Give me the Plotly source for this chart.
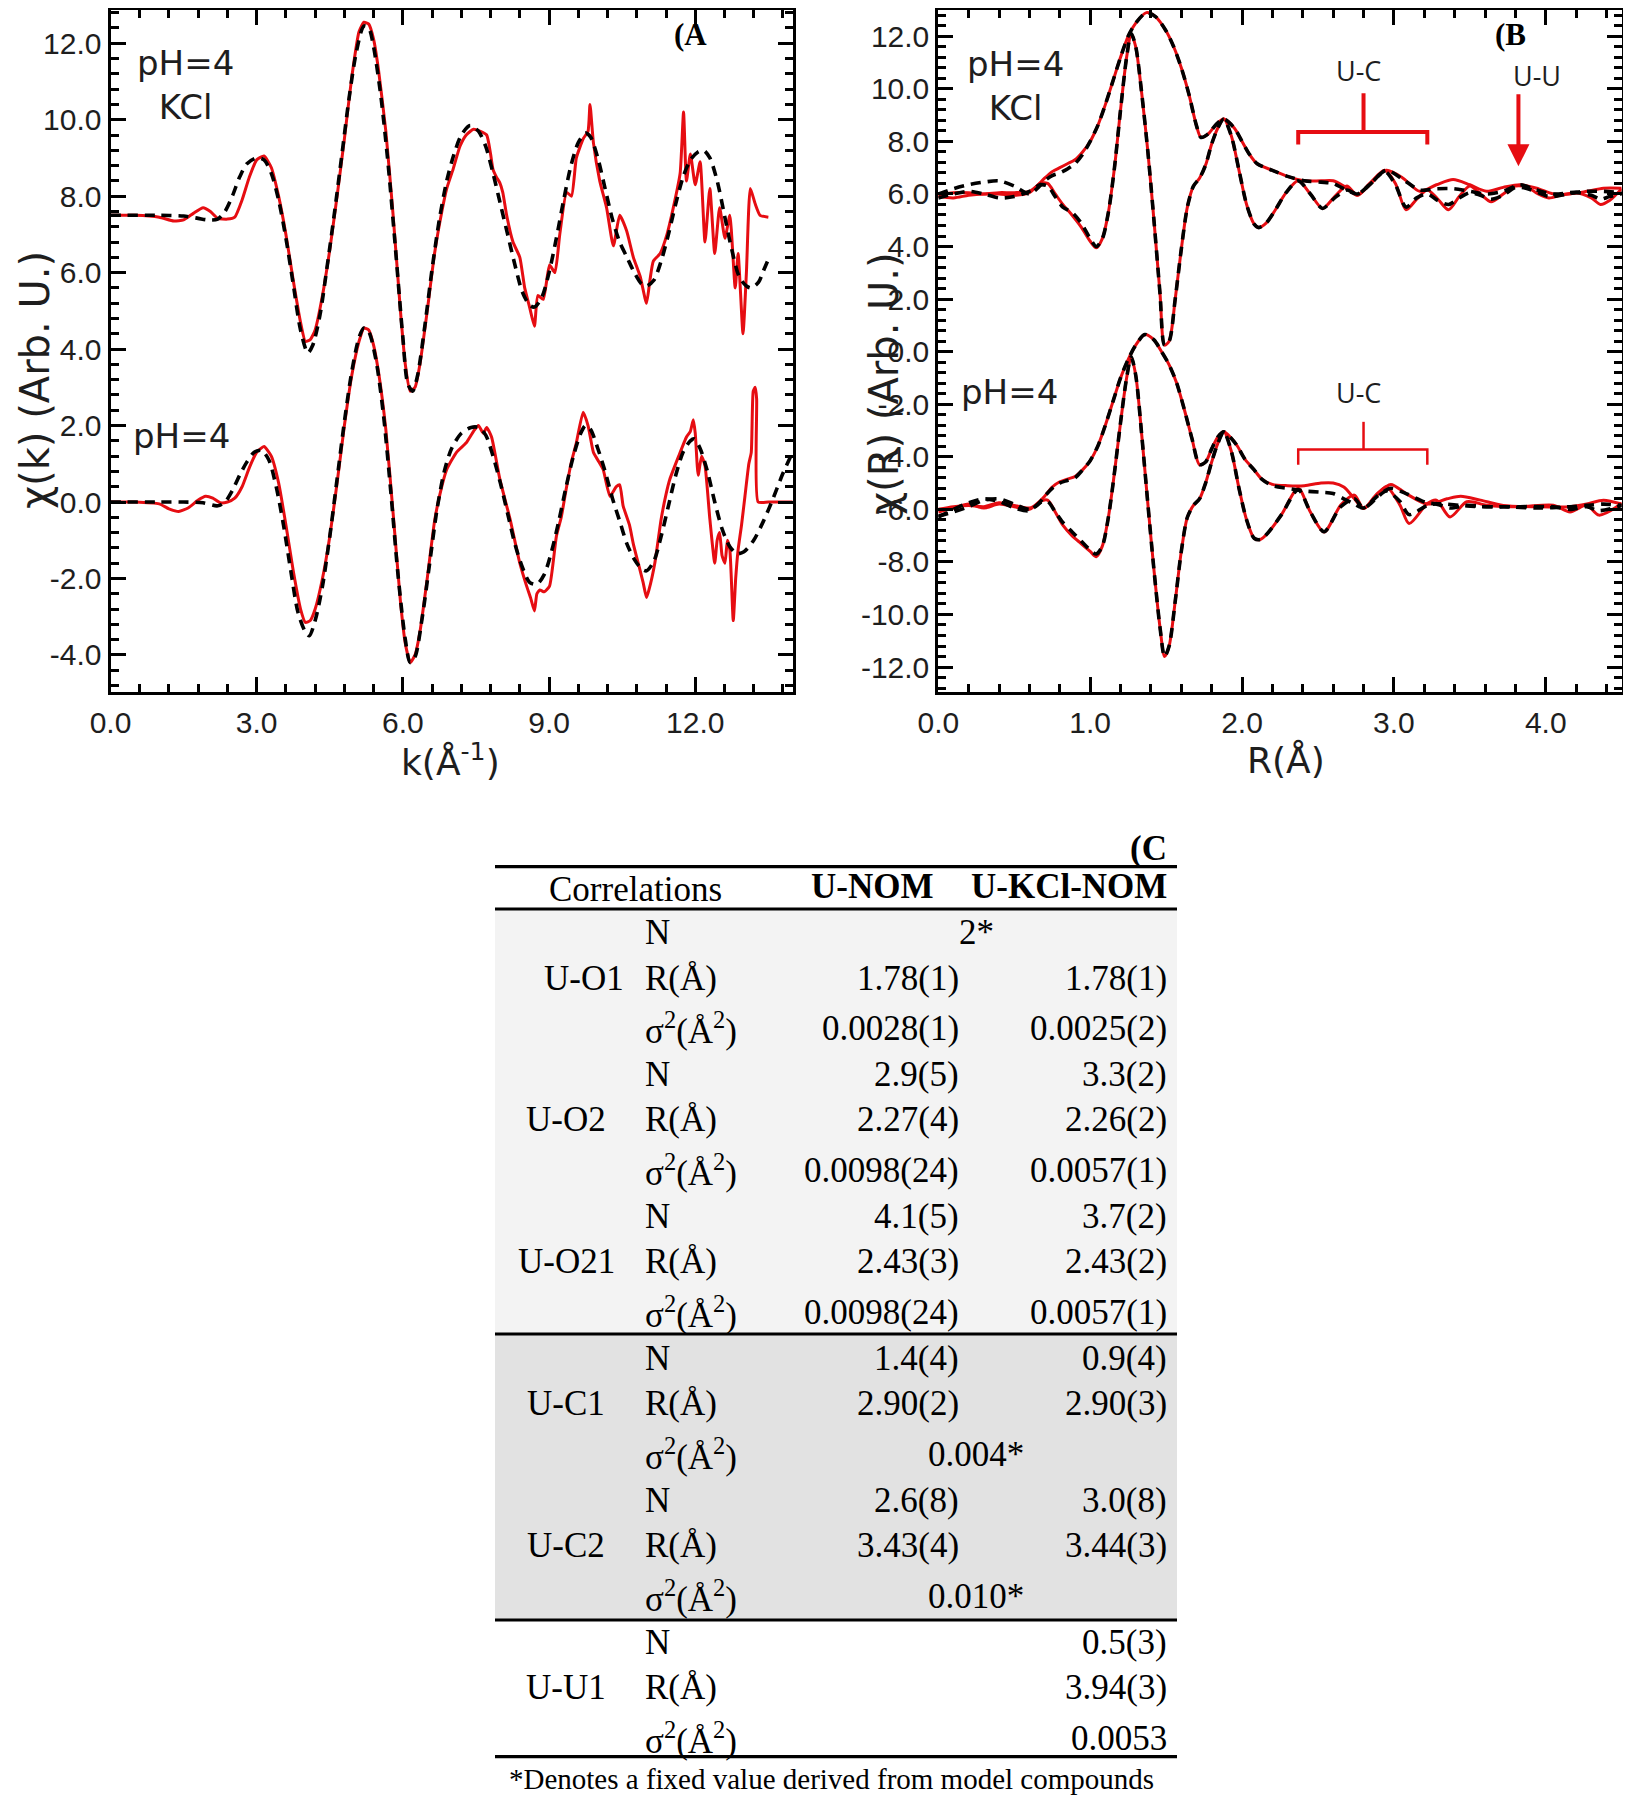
import plotly.graph_objects as go

# ---------------- data ----------------
# Panel A : chi(k)   (values as plotted, incl. vertical offsets)
A_UP_DATA = [(0.0, 7.5), (0.5, 7.5), (1.0, 7.45), (1.3, 7.35), (1.5, 7.38), (1.7, 7.55), (1.9, 7.7), (2.05, 7.6),
             (2.2, 7.42), (2.4, 7.4), (2.55, 7.45), (2.7, 7.9), (2.85, 8.5), (3.0, 8.95), (3.15, 9.05), (3.3, 8.75),
             (3.45, 8.0), (3.6, 7.0), (3.75, 5.8), (3.9, 4.7), (4.0, 4.2), (4.1, 4.25), (4.2, 4.5), (4.35, 5.4),
             (4.5, 6.6), (4.65, 8.0), (4.8, 9.5), (4.95, 11.1), (5.1, 12.3), (5.2, 12.55), (5.3, 12.5), (5.4, 12.1),
             (5.5, 11.3), (5.65, 9.7), (5.8, 7.5), (5.95, 5.0), (6.05, 3.6), (6.15, 2.9), (6.25, 3.0), (6.35, 3.6),
             (6.5, 5.0), (6.65, 6.5), (6.8, 7.6), (6.9, 8.2), (7.03, 8.7), (7.17, 9.3), (7.3, 9.6), (7.45, 9.75),
             (7.58, 9.7), (7.72, 9.6), (7.8, 9.1), (7.85, 8.7), (7.92, 8.5), (7.99, 8.35), (8.05, 8.1), (8.13, 7.5),
             (8.26, 6.8), (8.4, 6.4), (8.5, 5.6), (8.6, 5.1), (8.7, 4.6), (8.77, 5.4), (8.88, 5.3), (9.01, 6.2),
             (9.12, 6.0), (9.22, 7.0), (9.36, 8.1), (9.46, 8.0), (9.56, 9.0), (9.7, 9.5), (9.8, 9.7), (9.84, 10.4),
             (9.91, 9.4), (10.04, 8.4), (10.18, 7.7), (10.32, 6.7), (10.45, 7.5), (10.59, 7.1), (10.73, 6.4),
             (10.87, 5.9), (11.0, 5.2), (11.07, 5.8), (11.14, 6.3), (11.28, 6.5), (11.42, 7.0), (11.55, 7.7),
             (11.69, 8.6), (11.76, 10.2), (11.82, 8.4), (11.9, 9.1), (12.0, 8.3), (12.1, 8.9), (12.2, 6.8),
             (12.3, 8.2), (12.4, 6.5), (12.5, 7.7), (12.61, 6.9), (12.71, 7.5), (12.82, 5.6), (12.88, 6.5),
             (12.98, 4.4), (13.05, 6.0), (13.13, 8.2), (13.23, 7.8), (13.33, 7.5), (13.5, 7.45)]
A_UP_FIT = [(0.0, 7.5), (1.0, 7.5), (1.5, 7.48), (1.8, 7.42), (2.0, 7.38), (2.2, 7.4), (2.35, 7.6), (2.5, 8.0),
            (2.65, 8.5), (2.8, 8.85), (3.0, 9.0), (3.15, 8.95), (3.3, 8.6), (3.45, 7.9), (3.6, 6.9), (3.75, 5.7),
            (3.9, 4.5), (4.05, 3.9), (4.15, 4.1), (4.3, 4.9), (4.45, 6.2), (4.6, 7.6), (4.75, 9.1), (4.9, 10.6),
            (5.05, 11.8), (5.2, 12.45), (5.3, 12.4), (5.4, 11.9), (5.55, 10.6), (5.7, 8.8), (5.85, 6.6), (6.0, 4.3),
            (6.1, 3.1), (6.2, 2.9), (6.3, 3.3), (6.45, 4.6), (6.6, 6.1), (6.75, 7.4), (6.9, 8.4), (7.05, 9.1),
            (7.2, 9.6), (7.38, 9.85), (7.55, 9.7), (7.7, 9.3), (7.85, 8.6), (8.0, 7.8), (8.15, 7.0), (8.3, 6.2),
            (8.45, 5.5), (8.6, 5.15), (8.7, 5.1), (8.85, 5.35), (9.0, 6.0), (9.15, 6.9), (9.3, 7.9), (9.45, 8.8),
            (9.6, 9.4), (9.75, 9.65), (9.85, 9.55), (10.0, 9.0), (10.15, 8.2), (10.3, 7.4), (10.45, 6.8),
            (10.6, 6.4), (10.75, 6.0), (10.9, 5.7), (11.0, 5.65), (11.15, 5.8), (11.3, 6.3), (11.45, 7.0),
            (11.6, 7.8), (11.75, 8.5), (11.9, 8.95), (12.05, 9.15), (12.17, 9.2), (12.3, 9.0), (12.45, 8.4),
            (12.6, 7.5), (12.75, 6.6), (12.9, 5.9), (13.05, 5.65), (13.15, 5.6), (13.3, 5.75), (13.4, 6.05),
            (13.5, 6.35)]
A_LO_DATA = [(0.0, 0.0), (0.5, 0.0), (1.0, -0.05), (1.2, -0.18), (1.4, -0.25), (1.6, -0.15), (1.8, 0.05),
             (1.95, 0.15), (2.1, 0.1), (2.25, -0.02), (2.4, 0.0), (2.55, 0.1), (2.7, 0.4), (2.85, 0.9), (3.0, 1.3),
             (3.15, 1.45), (3.3, 1.2), (3.45, 0.5), (3.6, -0.6), (3.75, -1.8), (3.9, -2.8), (4.0, -3.15),
             (4.1, -3.1), (4.2, -2.8), (4.35, -2.0), (4.5, -0.9), (4.65, 0.5), (4.8, 2.0), (4.95, 3.3), (5.1, 4.2),
             (5.2, 4.55), (5.3, 4.5), (5.4, 4.1), (5.5, 3.4), (5.65, 1.9), (5.8, -0.3), (5.95, -2.6), (6.05, -3.7),
             (6.15, -4.2), (6.25, -4.0), (6.35, -3.4), (6.5, -2.0), (6.65, -0.5), (6.76, 0.2), (6.9, 0.85),
             (7.1, 1.3), (7.3, 1.55), (7.45, 1.85), (7.55, 2.0), (7.65, 1.8), (7.72, 1.95), (7.82, 1.7), (7.99, 0.6),
             (8.2, -0.45), (8.4, -1.6), (8.54, -2.2), (8.62, -2.5), (8.7, -2.85), (8.75, -2.4), (8.81, -2.3),
             (8.9, -2.35), (9.01, -2.2), (9.15, -0.9), (9.25, -0.4), (9.36, 0.4), (9.45, 1.0), (9.56, 1.55),
             (9.7, 2.35), (9.8, 2.0), (9.91, 1.3), (10.0, 1.1), (10.11, 0.85), (10.25, 0.15), (10.38, 0.4),
             (10.45, 0.45), (10.52, -0.1), (10.65, -0.6), (10.73, -1.1), (10.85, -1.7), (10.93, -2.1), (11.0, -2.5),
             (11.05, -2.3), (11.17, -1.6), (11.3, -0.45), (11.4, 0.2), (11.48, 0.6), (11.66, 1.2), (11.82, 1.7),
             (11.9, 1.85), (11.96, 2.15), (12.0, 1.8), (12.06, 0.7), (12.13, 1.2), (12.2, 0.95), (12.3, -0.45),
             (12.4, -1.6), (12.45, -1.0), (12.5, -0.8), (12.55, -1.4), (12.61, -1.6), (12.66, -1.0), (12.71, -1.25),
             (12.78, -3.1), (12.83, -2.0), (12.88, -1.25), (12.95, -0.6), (13.02, 0.15), (13.1, 1.0), (13.15, 1.3),
             (13.19, 2.9), (13.23, 3.0), (13.26, 2.7), (13.29, 0.0), (13.5, 0.0), (14.0, 0.0)]
A_LO_FIT = [(0.0, 0.0), (1.0, 0.0), (1.5, 0.0), (1.9, -0.02), (2.2, -0.1), (2.35, 0.0), (2.5, 0.3), (2.65, 0.7),
            (2.8, 1.05), (2.95, 1.3), (3.1, 1.35), (3.25, 1.1), (3.4, 0.4), (3.55, -0.6), (3.7, -1.8), (3.85, -2.9),
            (4.0, -3.4), (4.08, -3.5), (4.2, -3.1), (4.35, -2.2), (4.5, -0.9), (4.65, 0.6), (4.8, 2.1), (4.95, 3.4),
            (5.1, 4.3), (5.2, 4.55), (5.3, 4.45), (5.45, 3.7), (5.6, 2.3), (5.75, 0.3), (5.9, -1.9), (6.05, -3.6),
            (6.15, -4.2), (6.25, -4.05), (6.4, -3.0), (6.55, -1.6), (6.7, -0.2), (6.85, 0.8), (7.0, 1.4), (7.2, 1.8),
            (7.4, 1.95), (7.55, 1.95), (7.7, 1.75), (7.85, 1.2), (8.0, 0.5), (8.15, -0.3), (8.3, -1.1), (8.45, -1.7),
            (8.6, -2.1), (8.75, -2.15), (8.9, -1.9), (9.05, -1.3), (9.2, -0.5), (9.35, 0.4), (9.5, 1.2), (9.65, 1.8),
            (9.75, 2.0), (9.85, 1.9), (10.0, 1.4), (10.15, 0.8), (10.3, 0.1), (10.45, -0.5), (10.6, -1.1),
            (10.75, -1.5), (10.9, -1.75), (11.0, -1.8), (11.15, -1.55), (11.3, -0.9), (11.45, -0.1), (11.6, 0.7),
            (11.75, 1.3), (11.9, 1.6), (11.98, 1.65), (12.1, 1.4), (12.25, 0.8), (12.4, 0.0), (12.55, -0.7),
            (12.7, -1.15), (12.85, -1.35), (13.0, -1.3), (13.2, -1.0), (13.4, -0.5), (13.6, 0.1), (13.8, 0.75),
            (14.0, 1.3)]

# Panel B : |chi(R)| and Re chi(R)
B_UP_MAG_DATA = [(0.0, 5.95), (0.1, 6.05), (0.2, 6.05), (0.3, 6.0), (0.4, 6.05), (0.5, 6.05), (0.6, 6.1), (0.65, 6.3),
                 (0.7, 6.6), (0.75, 6.85), (0.8, 7.0), (0.85, 7.15), (0.9, 7.3), (0.95, 7.6), (1.0, 8.0), (1.05, 8.6),
                 (1.1, 9.4), (1.15, 10.3), (1.2, 11.2), (1.25, 12.0), (1.3, 12.5), (1.37, 12.9), (1.43, 12.75),
                 (1.5, 12.2), (1.55, 11.6), (1.6, 10.8), (1.65, 9.8), (1.7, 8.6), (1.73, 8.15), (1.78, 8.3),
                 (1.83, 8.65), (1.88, 8.85), (1.95, 8.5), (2.0, 8.0), (2.05, 7.5), (2.1, 7.15), (2.2, 6.9), (2.3, 6.67),
                 (2.41, 6.5), (2.52, 6.5), (2.6, 6.5), (2.67, 6.3), (2.76, 5.95), (2.84, 6.35), (2.95, 6.9),
                 (3.06, 6.6), (3.17, 6.1), (3.28, 6.35), (3.39, 6.55), (3.5, 6.35), (3.61, 6.1), (3.72, 6.25),
                 (3.83, 6.35), (3.94, 6.22), (4.05, 6.0), (4.16, 6.0), (4.27, 6.1), (4.38, 6.22), (4.5, 6.22)]
B_UP_MAG_FIT = [(0.0, 6.0), (0.1, 6.2), (0.2, 6.35), (0.3, 6.45), (0.4, 6.5), (0.5, 6.3), (0.6, 6.0), (0.65, 6.2),
                (0.7, 6.5), (0.75, 6.7), (0.8, 6.8), (0.85, 6.95), (0.9, 7.15), (0.95, 7.5), (1.0, 8.0), (1.05, 8.6),
                (1.1, 9.4), (1.15, 10.3), (1.2, 11.2), (1.25, 12.0), (1.3, 12.5), (1.37, 12.9), (1.43, 12.75),
                (1.5, 12.2), (1.55, 11.6), (1.6, 10.8), (1.65, 9.8), (1.7, 8.6), (1.73, 8.15), (1.78, 8.3),
                (1.83, 8.65), (1.88, 8.85), (1.95, 8.5), (2.0, 8.0), (2.05, 7.5), (2.1, 7.15), (2.2, 6.9), (2.3, 6.67),
                (2.41, 6.5), (2.52, 6.45), (2.6, 6.4), (2.67, 6.2), (2.76, 6.0), (2.84, 6.35), (2.95, 6.9),
                (3.06, 6.55), (3.17, 6.15), (3.28, 6.2), (3.39, 6.2), (3.5, 6.1), (3.61, 6.0), (3.72, 6.1),
                (3.83, 6.35), (3.94, 6.15), (4.05, 6.0), (4.16, 6.05), (4.27, 6.1), (4.38, 6.1), (4.5, 6.05)]
B_UP_RE_DATA = [(0.0, 5.9), (0.1, 5.85), (0.2, 5.95), (0.3, 6.0), (0.4, 6.0), (0.5, 5.95), (0.6, 6.05), (0.67, 6.4),
                (0.72, 6.4), (0.77, 6.0), (0.82, 5.6), (0.88, 5.2), (0.94, 4.75), (1.0, 4.2), (1.04, 3.95), (1.08, 4.3),
                (1.12, 5.3), (1.16, 7.0), (1.2, 9.2), (1.24, 11.2), (1.27, 12.1), (1.3, 11.6), (1.34, 9.8),
                (1.38, 7.6), (1.42, 5.0), (1.46, 2.2), (1.49, 0.25), (1.52, 0.4), (1.56, 2.0), (1.6, 3.9), (1.64, 5.5),
                (1.68, 6.3), (1.72, 6.6), (1.76, 7.1), (1.8, 7.9), (1.84, 8.5), (1.88, 8.85), (1.93, 8.2),
                (1.98, 6.9), (2.03, 5.6), (2.08, 4.85), (2.11, 4.72), (2.16, 4.9), (2.22, 5.4), (2.29, 6.05),
                (2.37, 6.5), (2.45, 6.0), (2.53, 5.45), (2.61, 5.9), (2.69, 6.3), (2.76, 5.95), (2.84, 6.4),
                (2.94, 6.9), (3.01, 6.4), (3.08, 5.4), (3.15, 5.8), (3.22, 6.15), (3.29, 5.8), (3.36, 5.4),
                (3.43, 5.9), (3.5, 6.3), (3.57, 6.0), (3.64, 5.7), (3.72, 6.0), (3.8, 6.3), (3.88, 6.25), (3.95, 6.0),
                (4.02, 5.85), (4.1, 5.95), (4.2, 6.05), (4.3, 5.85), (4.36, 5.6), (4.42, 5.75), (4.5, 6.2)]
B_UP_RE_FIT = [(0.0, 5.85), (0.1, 6.0), (0.2, 6.1), (0.3, 6.0), (0.4, 5.85), (0.5, 5.9), (0.6, 6.1), (0.67, 6.35),
               (0.72, 6.3), (0.77, 5.9), (0.82, 5.5), (0.88, 5.3), (0.94, 4.9), (1.0, 4.3), (1.04, 4.0), (1.08, 4.3),
               (1.12, 5.3), (1.16, 7.0), (1.2, 9.2), (1.24, 11.2), (1.27, 12.1), (1.3, 11.6), (1.34, 9.8),
               (1.38, 7.6), (1.42, 5.0), (1.46, 2.2), (1.49, 0.25), (1.52, 0.4), (1.56, 2.0), (1.6, 3.9), (1.64, 5.5),
               (1.68, 6.3), (1.72, 6.6), (1.76, 7.1), (1.8, 7.9), (1.84, 8.5), (1.88, 8.85), (1.93, 8.2),
               (1.98, 6.9), (2.03, 5.6), (2.08, 4.85), (2.11, 4.72), (2.16, 4.9), (2.22, 5.4), (2.29, 6.05),
               (2.37, 6.5), (2.45, 6.0), (2.53, 5.45), (2.61, 5.85), (2.69, 6.15), (2.76, 6.0), (2.84, 6.35),
               (2.94, 6.85), (3.01, 6.35), (3.08, 5.5), (3.15, 5.85), (3.22, 6.0), (3.29, 5.75), (3.36, 5.6),
               (3.43, 5.85), (3.5, 6.05), (3.57, 5.95), (3.64, 5.8), (3.72, 5.95), (3.8, 6.25), (3.88, 6.2),
               (3.95, 6.05), (4.02, 5.9), (4.1, 5.95), (4.2, 6.05), (4.3, 5.95), (4.36, 5.8), (4.42, 5.9), (4.5, 6.0)]
B_LO_MAG_DATA = [(0.0, -6.0), (0.1, -5.9), (0.2, -5.85), (0.3, -5.9), (0.4, -5.75), (0.5, -5.85), (0.6, -5.95),
                 (0.65, -5.8), (0.7, -5.5), (0.75, -5.15), (0.8, -4.95), (0.85, -4.85), (0.9, -4.75), (0.95, -4.5),
                 (1.0, -4.15), (1.05, -3.6), (1.1, -2.8), (1.15, -1.9), (1.2, -1.0), (1.25, -0.3), (1.3, 0.25),
                 (1.36, 0.65), (1.42, 0.45), (1.47, 0.0), (1.52, -0.5), (1.57, -1.2), (1.62, -2.2), (1.67, -3.3),
                 (1.72, -4.3), (1.76, -4.2), (1.8, -3.7), (1.84, -3.25), (1.88, -3.05), (1.93, -3.3), (1.97, -3.6),
                 (2.02, -4.1), (2.08, -4.5), (2.13, -4.85), (2.2, -5.05), (2.3, -5.1), (2.41, -5.1), (2.52, -5.0),
                 (2.6, -5.0), (2.67, -5.15), (2.74, -5.6), (2.8, -5.97), (2.89, -5.4), (2.98, -5.05), (3.08, -5.4),
                 (3.22, -5.8), (3.35, -5.6), (3.44, -5.5), (3.57, -5.65), (3.72, -5.85), (3.94, -5.9), (4.16, -5.9),
                 (4.27, -5.8), (4.38, -5.65), (4.5, -5.8)]
B_LO_MAG_FIT = [(0.0, -6.25), (0.1, -6.1), (0.2, -5.9), (0.3, -5.65), (0.4, -5.6), (0.5, -5.8), (0.6, -6.0),
                (0.65, -5.85), (0.7, -5.5), (0.75, -5.2), (0.8, -5.0), (0.85, -4.9), (0.9, -4.8), (0.95, -4.5),
                (1.0, -4.15), (1.05, -3.6), (1.1, -2.8), (1.15, -1.9), (1.2, -1.0), (1.25, -0.3), (1.3, 0.25),
                (1.36, 0.65), (1.42, 0.45), (1.47, 0.0), (1.52, -0.5), (1.57, -1.2), (1.62, -2.2), (1.67, -3.3),
                (1.72, -4.3), (1.76, -4.2), (1.8, -3.7), (1.84, -3.25), (1.88, -3.05), (1.93, -3.3), (1.97, -3.6),
                (2.02, -4.1), (2.08, -4.5), (2.13, -4.85), (2.2, -5.1), (2.3, -5.2), (2.41, -5.3), (2.52, -5.35),
                (2.6, -5.4), (2.67, -5.6), (2.74, -5.8), (2.8, -5.95), (2.89, -5.5), (2.98, -5.2), (3.08, -5.4),
                (3.22, -5.75), (3.35, -5.8), (3.44, -5.85), (3.57, -5.9), (3.72, -5.9), (3.94, -5.95), (4.16, -5.9),
                (4.27, -5.85), (4.38, -5.8), (4.5, -5.85)]
B_LO_RE_DATA = [(0.0, -6.1), (0.1, -5.95), (0.2, -5.8), (0.3, -5.95), (0.4, -5.8), (0.5, -5.9), (0.6, -6.0),
                (0.67, -5.7), (0.72, -5.65), (0.77, -6.1), (0.82, -6.6), (0.88, -7.0), (0.94, -7.3), (1.0, -7.6),
                (1.04, -7.8), (1.08, -7.4), (1.12, -6.3), (1.16, -4.6), (1.2, -2.7), (1.24, -1.0), (1.27, -0.2),
                (1.3, -0.9), (1.34, -3.2), (1.38, -5.8), (1.42, -8.3), (1.46, -10.5), (1.49, -11.6), (1.52, -11.2),
                (1.56, -9.5), (1.6, -7.6), (1.64, -6.3), (1.68, -5.85), (1.72, -5.6), (1.76, -5.0), (1.8, -4.2),
                (1.84, -3.5), (1.88, -3.05), (1.93, -3.8), (1.98, -5.2), (2.03, -6.4), (2.08, -7.1), (2.12, -7.15),
                (2.17, -6.9), (2.26, -6.2), (2.37, -5.2), (2.45, -6.1), (2.54, -6.86), (2.65, -5.84), (2.74, -5.46),
                (2.8, -5.97), (2.89, -5.46), (2.95, -5.14), (3.04, -5.84), (3.1, -6.54), (3.22, -5.78),
                (3.28, -5.65), (3.37, -6.29), (3.48, -5.71), (3.61, -5.84), (3.83, -5.9), (4.05, -5.84),
                (4.16, -6.1), (4.27, -5.84), (4.35, -6.22), (4.5, -5.78)]
B_LO_RE_FIT = [(0.0, -6.3), (0.1, -6.0), (0.2, -5.75), (0.3, -5.6), (0.4, -5.7), (0.5, -5.95), (0.6, -6.05),
               (0.67, -5.75), (0.72, -5.7), (0.77, -6.1), (0.82, -6.5), (0.88, -6.85), (0.94, -7.2), (1.0, -7.55),
               (1.04, -7.7), (1.08, -7.4), (1.12, -6.3), (1.16, -4.6), (1.2, -2.7), (1.24, -1.0), (1.27, -0.2),
               (1.3, -0.9), (1.34, -3.2), (1.38, -5.8), (1.42, -8.3), (1.46, -10.5), (1.49, -11.6), (1.52, -11.2),
               (1.56, -9.5), (1.6, -7.6), (1.64, -6.3), (1.68, -5.85), (1.72, -5.6), (1.76, -5.0), (1.8, -4.2),
               (1.84, -3.5), (1.88, -3.05), (1.93, -3.8), (1.98, -5.2), (2.03, -6.4), (2.08, -7.1), (2.12, -7.15),
               (2.17, -6.9), (2.26, -6.2), (2.37, -5.25), (2.45, -6.1), (2.54, -6.85), (2.65, -5.9), (2.74, -5.6),
               (2.8, -5.95), (2.89, -5.55), (2.95, -5.3), (3.04, -5.7), (3.1, -6.2), (3.22, -5.85), (3.28, -5.8),
               (3.37, -5.95), (3.48, -5.85), (3.61, -5.9), (3.83, -5.9), (4.05, -5.9), (4.16, -6.0), (4.27, -5.9),
               (4.35, -6.05), (4.5, -5.85)]

# tick values / labels
A_XTICKS = [0.0, 3.0, 6.0, 9.0, 12.0]
A_YTICKS = [-4.0, -2.0, 0.0, 2.0, 4.0, 6.0, 8.0, 10.0, 12.0]
B_XTICKS = [0.0, 1.0, 2.0, 3.0, 4.0]
B_YTICKS = [-12.0, -10.0, -8.0, -6.0, -4.0, -2.0, 0.0, 2.0, 4.0, 6.0, 8.0, 10.0, 12.0]

# Table (C)
TABLE_HEADERS = ["Correlations", "U-NOM", "U-KCl-NOM"]
TABLE_GROUPS = ["U-O1", "U-O2", "U-O21", "U-C1", "U-C2", "U-U1"]
TABLE_PARAMS = ["N", "R(Å)", "σ<sup>2</sup>(Å<sup>2</sup>)"]
U_NOM = ["2*", "1.78(1)", "0.0028(1)",
         "2.9(5)", "2.27(4)", "0.0098(24)",
         "4.1(5)", "2.43(3)", "0.0098(24)",
         "1.4(4)", "2.90(2)", "0.004*",
         "2.6(8)", "3.43(4)", "0.010*",
         "", "", ""]
U_KCL_NOM = [None, "1.78(1)", "0.0025(2)",
             "3.3(2)", "2.26(2)", "0.0057(1)",
             "3.7(2)", "2.43(2)", "0.0057(1)",
             "0.9(4)", "2.90(3)", None,
             "3.0(8)", "3.44(3)", None,
             "0.5(3)", "3.94(3)", "0.0053"]   # None = one value shared by both samples
FOOTNOTE = "*Denotes a fixed value derived from model compounds"

# ---------------- figure ----------------
W, H = 1631, 1800
OFF = 8          # the page body margin shifts the plot by 8 px
RED = "#e60d12"
SANS = "Liberation Sans, Arial, sans-serif"
SANS_W = "DejaVu Sans, Verdana, sans-serif"
SERIF = "Liberation Serif, Times New Roman, serif"


def px(x):
    return (x - OFF) / W


def py(y):
    return 1 - (y - OFF) / H


fig = go.Figure()


def add_curve(pairs, xa, ya, fit, smooth=0.7):
    xs = [p[0] for p in pairs]
    ys = [p[1] for p in pairs]
    if fit:
        line = dict(color="black", width=3.6, dash="10px,7px", shape="spline", smoothing=0.8)
    else:
        line = dict(color=RED, width=3, shape="spline", smoothing=smooth)
    fig.add_trace(go.Scatter(x=xs, y=ys, mode="lines", xaxis=xa, yaxis=ya, line=line,
                             showlegend=False, hoverinfo="skip"))


for data in [A_UP_DATA, A_LO_DATA]:
    add_curve(data, "x", "y", False, smooth=0.5)
for fit_ in [A_UP_FIT, A_LO_FIT]:
    add_curve(fit_, "x", "y", True)
for data in [B_UP_MAG_DATA, B_UP_RE_DATA, B_LO_MAG_DATA, B_LO_RE_DATA]:
    add_curve(data, "x2", "y2", False, smooth=0.8)
for fit_ in [B_UP_MAG_FIT, B_UP_RE_FIT, B_LO_MAG_FIT, B_LO_RE_FIT]:
    add_curve(fit_, "x2", "y2", True)


def axis(domain, rng, tickvals, minor_dtick, anchor, standoff):
    return dict(domain=domain, range=rng, anchor=anchor, tickmode="array", tickvals=tickvals,
                ticktext=[f"{v:.1f}" for v in tickvals], ticks="inside", ticklen=15, tickwidth=3,
                tickcolor="black", showline=True, linewidth=3, linecolor="black", mirror="allticks",
                showgrid=False, zeroline=False, ticklabelstandoff=standoff, automargin=False,
                tickfont=dict(family=SANS, size=30, color="#1e1e1e"),
                minor=dict(tickmode="linear", tick0=0, dtick=minor_dtick, ticks="inside", ticklen=8,
                           tickwidth=3, tickcolor="black", showgrid=False))


A_X = [px(110.5), px(792.7)]
B_X = [px(938.3), px(1621.7)]
P_Y = [py(692), py(10)]

layout = dict(
    width=W, height=H, margin=dict(l=0, r=0, t=0, b=0, pad=0, autoexpand=False),
    paper_bgcolor="white", plot_bgcolor="white",
    xaxis=axis(A_X, [0, 14.0], A_XTICKS, 0.6, "y", 2),
    yaxis=axis(P_Y, [-4.97, 12.87], A_YTICKS, 0.4, "x", 0),
    xaxis2=axis(B_X, [0, 4.5], B_XTICKS, 0.2, "y2", 2),
    yaxis2=axis(P_Y, [-12.95, 13.0], B_YTICKS, 0.4, "x2", 0),
)
fig.update_layout(**layout)

ann = []
shapes = []


def text(t, x, y, font, xref="paper", yref="paper", xanchor="center", yanchor="middle", **kw):
    ann.append(dict(text=t, x=x, y=y, xref=xref, yref=yref, xanchor=xanchor, yanchor=yanchor,
                    showarrow=False, font=font, **kw))


TITLE_F = dict(family=SANS_W, size=36, color="#1e1e1e")
YT_F = dict(family=SANS_W, size=40, color="#1e1e1e")
# axis titles
text("k(Å<sup>-1</sup>)", px(450), py(760), TITLE_F)
text("R(Å)", px(1286), py(760), TITLE_F)
text("χ(k) (Arb. U.)", px(35), py(380), YT_F, textangle=-90)
text("χ(R) (Arb. U.)", px(884), py(384), YT_F, textangle=-90)

# sample labels
lab_font = dict(family=SANS_W, size=34, color="#1e1e1e")
text("pH=4<br>KCl", 1.53, 10.9, lab_font, xref="x", yref="y")
text("pH=4", 1.45, 1.73, lab_font, xref="x", yref="y")
text("pH=4<br>KCl", 0.51, 10.1, lab_font, xref="x2", yref="y2")
text("pH=4", 0.47, -1.55, lab_font, xref="x2", yref="y2")

# panel letters
LET_F = dict(family=SERIF, size=31, color="black")
text("<b>(A</b>", 11.9, 12.23, LET_F, xref="x", yref="y")
text("<b>(B</b>", 3.77, 12.07, LET_F, xref="x2", yref="y2")

# U-C brackets and U-U arrow
UC_R = (2.37, 2.80, 3.22)
UC_UP = (7.88, 8.36, 9.83, 10.68)      # end, bar, stem top, label
UC_LO = (-4.3, -3.72, -2.67, -1.56)
UC_F = dict(family="Open Sans, sans-serif", size=27, color="#1e1e1e")
for (yend, ybar, ystem, ylab), lw in [(UC_UP, 4), (UC_LO, 2.5)]:
    r0, rc, r1 = UC_R
    shapes.append(dict(type="path", xref="x2", yref="y2",
                       path=f"M {r0},{yend} L {r0},{ybar} L {r1},{ybar} L {r1},{yend}",
                       line=dict(color=RED, width=lw)))
    shapes.append(dict(type="line", xref="x2", yref="y2", x0=rc, x1=rc, y0=ybar, y1=ystem,
                       line=dict(color=RED, width=lw)))
    text("U-C", 2.77, ylab, UC_F, xref="x2", yref="y2")
text("U-U", 3.94, 10.5, UC_F, xref="x2", yref="y2")
ann.append(dict(text="", x=3.82, y=7.05, ax=3.82, ay=9.85, xref="x2", yref="y2", axref="x2", ayref="y2",
                showarrow=True, arrowhead=2, arrowsize=1.1, arrowwidth=4, arrowcolor=RED))

# ---------------- table (C) ----------------
TX0, TX1 = 495, 1177
shapes.append(dict(type="rect", xref="paper", yref="paper", x0=px(TX0), x1=px(TX1), y0=py(1334), y1=py(909),
                   fillcolor="#f3f3f3", line=dict(width=0), layer="below"))
shapes.append(dict(type="rect", xref="paper", yref="paper", x0=px(TX0), x1=px(TX1), y0=py(1620), y1=py(1334),
                   fillcolor="#e2e2e2", line=dict(width=0), layer="below"))
for yl in [866.7, 909, 1334, 1620, 1756.7]:
    shapes.append(dict(type="line", xref="paper", yref="paper", x0=px(TX0), x1=px(TX1), y0=py(yl), y1=py(yl),
                       line=dict(color="black", width=3.2)))

tfont = dict(family=SERIF, size=35, color="black")
text("<b>(C</b>", px(1169), py(848), tfont, xanchor="right")
text(TABLE_HEADERS[0], px(635), py(889), tfont)
text(f"<b>{TABLE_HEADERS[1]}</b>", px(872), py(887), tfont)
text(f"<b>{TABLE_HEADERS[2]}</b>", px(1169), py(887), tfont, xanchor="right")

ROW_OFFS = [0, 45, 96]
for g, name in enumerate(TABLE_GROUPS):
    y0 = 933 + 141.9 * g
    gx = 584 if g == 0 else 566
    text(name, px(gx), py(y0 + ROW_OFFS[1]), tfont)
    for r in range(3):
        i = 3 * g + r
        yy = py(y0 + ROW_OFFS[r])
        text(TABLE_PARAMS[r], px(643), yy, tfont, xanchor="left")
        if U_KCL_NOM[i] is None:
            text(U_NOM[i], px(976), yy, tfont)
        else:
            if U_NOM[i]:
                text(U_NOM[i], px(961), yy, tfont, xanchor="right")
            text(U_KCL_NOM[i], px(1169), yy, tfont, xanchor="right")

text(FOOTNOTE, px(831), py(1779), dict(family=SERIF, size=29, color="black"))

fig.update_layout(annotations=ann, shapes=shapes)
fig.write_html("out.html")
